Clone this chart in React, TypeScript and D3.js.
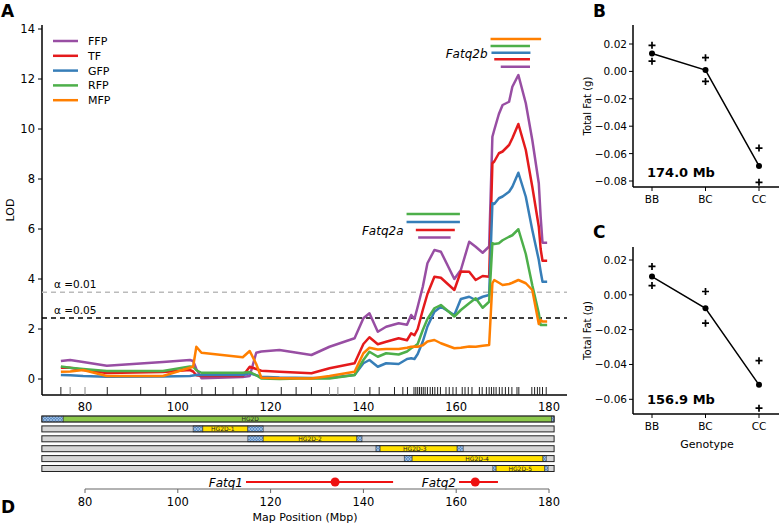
import React, { useEffect, useRef } from 'react';
import * as d3 from 'd3';

// map positions (Mb) where LOD was read
const positions = [74.8, 76.8, 79.6, 84.7, 96.8, 102.6, 103.3, 104.0, 105.1, 114.0, 115.5, 116.9, 118.0, 121.9, 128.8, 132.7, 138.1, 140.0, 141.3, 143.1, 144.9, 147.6, 149.4, 150.3, 151.0, 151.7, 152.8, 153.8, 155.3, 156.7, 159.6, 161.0, 162.8, 164.2, 165.7, 167.1, 167.8, 168.2, 169.2, 170.0, 171.4, 172.1, 173.4, 175.0, 176.4, 177.8, 178.2, 178.6, 179.6];

const lodFFP = [0.72, 0.76, 0.68, 0.53, 0.68, 0.76, 0.72, 0.4, 0.03, 0.08, 0.12, 1.05, 1.1, 1.16, 0.96, 1.29, 1.63, 2.43, 2.63, 1.89, 2.09, 2.23, 2.17, 2.56, 2.4, 2.89, 3.69, 4.63, 5.16, 5.09, 4.0, 4.36, 5.49, 5.29, 5.05, 5.3, 9.69, 9.96, 10.6, 10.96, 11.09, 11.69, 12.16, 11.03, 9.56, 7.83, 6.49, 5.45, 5.45];
const lodTF = [0.45, 0.45, 0.36, 0.24, 0.28, 0.36, 0.3, 0.15, 0.12, 0.12, 0.49, 0.4, 0.33, 0.29, 0.23, 0.43, 0.63, 1.4, 1.67, 1.39, 1.49, 1.63, 1.55, 1.83, 1.75, 2.0, 2.76, 3.4, 4.09, 4.05, 3.56, 4.3, 4.29, 3.96, 4.12, 4.09, 8.63, 8.7, 9.03, 9.1, 9.36, 9.63, 10.2, 9.16, 7.69, 6.09, 5.2, 4.73, 4.73];
const lodGFP = [0.16, 0.15, 0.12, 0.09, 0.1, 0.12, 0.14, 0.16, 0.16, 0.16, 0.23, 0.15, 0.09, 0.06, 0.04, 0.05, 0.16, 0.63, 0.76, 0.49, 0.63, 0.6, 0.8, 0.83, 0.8, 1.0, 1.5, 2.1, 2.69, 2.89, 2.56, 3.2, 3.29, 3.16, 3.29, 3.36, 7.03, 7.0, 7.23, 7.3, 7.49, 7.69, 8.25, 7.29, 5.96, 4.76, 4.3, 3.89, 3.89];
const lodRFP = [0.5, 0.45, 0.4, 0.32, 0.32, 0.5, 0.49, 0.35, 0.25, 0.25, 0.28, 0.15, 0.02, 0.0, 0.03, 0.02, 0.16, 0.76, 1.09, 0.89, 1.03, 0.98, 1.1, 1.23, 1.3, 1.4, 1.96, 2.4, 2.83, 2.96, 2.5, 2.76, 3.03, 3.23, 2.85, 3.09, 5.43, 5.4, 5.43, 5.55, 5.69, 5.75, 5.99, 5.0, 3.75, 2.63, 2.16, 2.16, 2.16];
const lodMFP = [0.29, 0.3, 0.36, 0.12, 0.12, 0.45, 0.49, 1.29, 1.05, 0.87, 1.12, 0.6, 0.05, 0.03, 0.02, 0.12, 0.29, 1.03, 1.25, 1.18, 1.2, 1.2, 1.25, 1.29, 1.3, 1.29, 1.35, 1.5, 1.56, 1.43, 1.23, 1.25, 1.3, 1.29, 1.33, 1.36, 3.83, 3.96, 3.85, 3.76, 3.8, 3.85, 3.96, 3.83, 3.56, 2.2, 2.36, 2.3, 2.3];

const seriesNames = ['FFP', 'TF', 'GFP', 'RFP', 'MFP'];
const seriesLods = [lodFFP, lodTF, lodGFP, lodRFP, lodMFP];
const seriesColors = ['#984ea3', '#e41a1c', '#377eb8', '#4daf4a', '#ff7f00'];

// genotyped markers (rug)
const markers = [74.8, 76.8, 80.0, 84.8, 92.0, 97.4, 102.9, 105.2, 108.1, 111.9, 114.8, 117.3, 122.3, 125.5, 128.8, 132.7, 134.5, 138.1, 141.4, 143.4, 146.7, 148.5, 149.5, 150.9, 151.3, 151.7, 152.1, 152.5, 152.9, 153.3, 153.8, 154.4, 154.9, 155.4, 156.0, 156.6, 157.8, 158.5, 159.3, 160.0, 161.3, 161.9, 162.6, 163.4, 165.0, 165.6, 166.5, 167.1, 167.6, 168.1, 168.6, 169.3, 169.9, 170.6, 171.3, 172.0, 173.1, 173.5, 176.3, 176.9, 177.5, 178.0, 178.6, 179.4];
const greyMarkers = [76.8, 80.0, 102.9, 132.7, 134.5, 138.1];

const thresholds = [
  { label: 'α =0.01', lod: 3.47, color: '#bbbbbb' },
  { label: 'α =0.05', lod: 2.44, color: '#000000' },
];

// support intervals per trait: [trait, start, end, lod height]
const fatq2aIntervals = [
  ['RFP', 149.3, 160.8, 6.6],
  ['GFP', 149.3, 160.8, 6.28],
  ['TF', 151.3, 159.7, 5.96],
  ['FFP', 151.8, 158.8, 5.66],
];
const fatq2bIntervals = [
  ['MFP', 167.4, 178.3, 13.6],
  ['RFP', 167.4, 175.9, 13.32],
  ['GFP', 167.6, 176.0, 13.05],
  ['TF', 168.2, 175.9, 12.79],
  ['FFP', 169.6, 175.9, 12.49],
];

// congenic strains: segments [start, end, kind]
const regionStart = 70.7;
const regionEnd = 181.1;
const strainNames = ['HG2D', 'HG2D-1', 'HG2D-2', 'HG2D-3', 'HG2D-4', 'HG2D-5'];
const strainLabelPos = [115.6, 109.7, 128.5, 151.1, 164.5, 173.8];
const strainSegments = [
  [[70.7, 75.3, 'u'], [75.3, 180.6, 'g'], [180.6, 181.1, 'u']],
  [[103.3, 105.4, 'u'], [105.4, 115.1, 'y'], [115.1, 118.4, 'u']],
  [[115.1, 118.4, 'u'], [118.4, 138.6, 'y'], [138.6, 139.7, 'u']],
  [[142.7, 143.6, 'u'], [143.6, 160.2, 'y'], [160.2, 161.5, 'u']],
  [[148.8, 150.5, 'u'], [150.5, 178.7, 'y'], [178.7, 179.4, 'u']],
  [[167.9, 168.6, 'u'], [168.6, 179.1, 'y'], [179.1, 179.8, 'u']],
];

const qtlNames = ['Fatq1', 'Fatq2'];
const qtlRanges = [[114.7, 146.4], [160.6, 169.0]];
const qtlPeaks = [133.9, 164.1];

const xTicks = [80, 100, 120, 140, 160, 180];
const lodTicks = [0, 2, 4, 6, 8, 10, 12, 14];

// effect plots
const genotypes = ['BB', 'BC', 'CC'];
const effB = { label: '174.0 Mb', mean: [0.013, 0.001, -0.069], hi: [0.019, 0.010, -0.056], lo: [0.0075, -0.0073, -0.081] };
const effC = { label: '156.9 Mb', mean: [0.0105, -0.0077, -0.0517], hi: [0.0163, 0.0019, -0.0378], lo: [0.0053, -0.0163, -0.0651] };
const ticksB = [0.02, 0, -0.02, -0.04, -0.06, -0.08];
const ticksC = [0.02, 0, -0.02, -0.04, -0.06];

const FONT = 'DejaVu Sans';

const fmt = (v) => (v < 0 ? '\u2212' : '') + Math.abs(v).toFixed(2);

const App = () => {
  const ref = useRef(null);

  useEffect(() => {
    const svg = d3.select(ref.current);
    svg.selectAll('*').remove();
    svg.attr('font-family', FONT);

    const x = d3.scaleLinear().domain([80, 180]).range([85, 549]);
    const y = d3.scaleLinear().domain([0, 14]).range([379, 29]);

    const defs = svg.append('defs');
    const pat = defs.append('pattern').attr('id', 'hatch').attr('patternUnits', 'userSpaceOnUse')
      .attr('width', 3).attr('height', 3);
    pat.append('rect').attr('width', 3).attr('height', 3).attr('fill', '#5d8fc8');
    pat.append('path').attr('d', 'M0,3 L3,0 M0,0 L3,3').attr('stroke', '#b9cfe8').attr('stroke-width', 0.6);

    // panel letters
    const letters = [['A', 1, 17], ['B', 593, 17], ['C', 593, 238], ['D', 1, 513]];
    letters.forEach(([t, lx, ly]) => {
      svg.append('text').attr('x', lx).attr('y', ly).attr('font-size', 17).attr('font-weight', 'bold').text(t);
    });

    // ---- panel A ----
    const g = svg.append('g');
    g.append('line').attr('x1', 42).attr('x2', 42).attr('y1', 25).attr('y2', 395).attr('stroke', '#000').attr('stroke-width', 1.5);
    g.append('line').attr('x1', 42).attr('x2', 567).attr('y1', 395).attr('y2', 395).attr('stroke', '#000').attr('stroke-width', 1.5);

    lodTicks.forEach((t) => {
      g.append('line').attr('x1', 38).attr('x2', 42).attr('y1', y(t)).attr('y2', y(t)).attr('stroke', '#000');
      g.append('text').attr('x', 35).attr('y', y(t) + 4).attr('text-anchor', 'end').attr('font-size', 11.5).text(t);
    });
    g.append('text').attr('transform', 'translate(14,210) rotate(-90)').attr('text-anchor', 'middle')
      .attr('font-size', 11).text('LOD');

    xTicks.forEach((t) => {
      g.append('text').attr('x', x(t)).attr('y', 411).attr('text-anchor', 'middle').attr('font-size', 11.5).text(t);
    });

    g.selectAll('.rug').data(markers).enter().append('line')
      .attr('x1', (d) => x(d)).attr('x2', (d) => x(d)).attr('y1', 387).attr('y2', 395)
      .attr('stroke', (d) => (greyMarkers.includes(d) ? '#888' : '#222')).attr('stroke-width', 1);

    thresholds.forEach((th) => {
      g.append('line').attr('x1', 42).attr('x2', 567).attr('y1', y(th.lod)).attr('y2', y(th.lod))
        .attr('stroke', th.color).attr('stroke-width', 1.5).attr('stroke-dasharray', '5,4');
      g.append('text').attr('x', 54).attr('y', y(th.lod) - 4).attr('font-size', 10.5).text(th.label);
    });

    const line = d3.line().x((d) => x(d[0])).y((d) => y(d[1]));
    seriesLods.forEach((lods, i) => {
      g.append('path').datum(positions.map((p, j) => [p, lods[j]]))
        .attr('d', line).attr('fill', 'none').attr('stroke', seriesColors[i])
        .attr('stroke-width', 2.5).attr('stroke-linejoin', 'round');
    });

    // legend
    seriesNames.forEach((n, i) => {
      const ly = 41 + i * 14.8;
      g.append('line').attr('x1', 53).attr('x2', 78).attr('y1', ly).attr('y2', ly)
        .attr('stroke', seriesColors[i]).attr('stroke-width', 2.5);
      g.append('text').attr('x', 88).attr('y', ly + 4).attr('font-size', 11).text(n);
    });

    const colorOf = (n) => seriesColors[seriesNames.indexOf(n)];
    const drawIntervals = (list, label) => {
      list.forEach(([n, a, b, h]) => {
        g.append('line').attr('x1', x(a)).attr('x2', x(b)).attr('y1', y(h)).attr('y2', y(h))
          .attr('stroke', colorOf(n)).attr('stroke-width', 2.5);
      });
      const mid = list[Math.floor(list.length / 2)];
      g.append('text').attr('x', x(list[0][1]) - 3).attr('y', y(mid[3]) + 5).attr('text-anchor', 'end')
        .attr('font-size', 12).attr('font-style', 'italic').text(label);
    };
    drawIntervals(fatq2aIntervals, 'Fatq2a');
    drawIntervals(fatq2bIntervals, 'Fatq2b');

    // ---- congenic bars ----
    const fills = { u: 'url(#hatch)', g: '#8cc84b', y: '#ffe000' };
    strainNames.forEach((n, i) => {
      const top = 416 + i * 9.9;
      const row = g.append('g');
      row.append('rect').attr('x', x(regionStart)).attr('y', top).attr('width', x(regionEnd) - x(regionStart))
        .attr('height', 6).attr('fill', '#d6d6d6');
      strainSegments[i].forEach(([a, b, k]) => {
        row.append('rect').attr('x', x(a)).attr('y', top).attr('width', x(b) - x(a)).attr('height', 6)
          .attr('fill', fills[k]).attr('stroke', '#333').attr('stroke-width', 0.6);
      });
      row.append('rect').attr('x', x(regionStart)).attr('y', top).attr('width', x(regionEnd) - x(regionStart))
        .attr('height', 6).attr('fill', 'none').attr('stroke', '#222').attr('stroke-width', 1);
      row.append('text').attr('x', x(strainLabelPos[i])).attr('y', top + 5).attr('text-anchor', 'middle')
        .attr('font-size', 6).attr('fill', '#222').text(n);
    });

    // ---- QTL positions ----
    qtlNames.forEach((n, i) => {
      const [a, b] = qtlRanges[i];
      g.append('line').attr('x1', x(a)).attr('x2', x(b)).attr('y1', 482).attr('y2', 482)
        .attr('stroke', '#ee1111').attr('stroke-width', 2.2);
      g.append('circle').attr('cx', x(qtlPeaks[i])).attr('cy', 482).attr('r', 4.5).attr('fill', '#ee1111');
      g.append('text').attr('x', x(a) - 3).attr('y', 486.5).attr('text-anchor', 'end')
        .attr('font-size', 12).attr('font-style', 'italic').text(n);
    });

    g.append('line').attr('x1', x(80)).attr('x2', x(180)).attr('y1', 489).attr('y2', 489).attr('stroke', '#666').attr('stroke-width', 1.2);
    xTicks.forEach((t) => {
      g.append('line').attr('x1', x(t)).attr('x2', x(t)).attr('y1', 489).attr('y2', 493).attr('stroke', '#666');
      g.append('text').attr('x', x(t)).attr('y', 506).attr('text-anchor', 'middle').attr('font-size', 11.5).text(t);
    });
    g.append('text').attr('x', 305).attr('y', 521).attr('text-anchor', 'middle').attr('font-size', 11).text('Map Position (Mbp)');

    // ---- effect plots ----
    const gx = d3.scalePoint().domain(genotypes).range([652, 759]);
    const effect = (eff, ticks, yScale, top, bottom, xlab) => {
      const p = svg.append('g');
      p.append('line').attr('x1', 633).attr('x2', 633).attr('y1', top).attr('y2', bottom).attr('stroke', '#000').attr('stroke-width', 1.5);
      p.append('line').attr('x1', 633).attr('x2', 779).attr('y1', bottom).attr('y2', bottom).attr('stroke', '#000').attr('stroke-width', 1.5);
      ticks.forEach((t) => {
        p.append('line').attr('x1', 629).attr('x2', 633).attr('y1', yScale(t)).attr('y2', yScale(t)).attr('stroke', '#000');
        p.append('text').attr('x', 627).attr('y', yScale(t) + 4).attr('text-anchor', 'end').attr('font-size', 10.5).text(fmt(t));
      });
      genotypes.forEach((gt) => {
        p.append('line').attr('x1', gx(gt)).attr('x2', gx(gt)).attr('y1', bottom).attr('y2', bottom + 4).attr('stroke', '#000');
        p.append('text').attr('x', gx(gt)).attr('y', bottom + 16).attr('text-anchor', 'middle').attr('font-size', 10.5).text(gt);
      });
      p.append('text').attr('transform', `translate(${591},${(top + bottom) / 2}) rotate(-90)`).attr('text-anchor', 'middle')
        .attr('font-size', 10).text('Total Fat (g)');
      p.append('path').datum(eff.mean.map((m, i) => [gx(genotypes[i]), yScale(m)]))
        .attr('d', d3.line()).attr('fill', 'none').attr('stroke', '#000').attr('stroke-width', 1.5);
      eff.mean.forEach((m, i) => {
        p.append('circle').attr('cx', gx(genotypes[i])).attr('cy', yScale(m)).attr('r', 3).attr('fill', '#000');
      });
      [...eff.hi, ...eff.lo].forEach((v, k) => {
        const cx = gx(genotypes[k % 3]);
        const cy = yScale(v);
        p.append('path').attr('d', `M${cx - 3.5},${cy}H${cx + 3.5}M${cx},${cy - 3.5}V${cy + 3.5}`)
          .attr('stroke', '#000').attr('stroke-width', 1.7);
      });
      p.append('text').attr('x', 647).attr('y', bottom - 10).attr('font-size', 13).attr('font-weight', 'bold').text(eff.label);
      if (xlab) {
        p.append('text').attr('x', 707).attr('y', bottom + 34).attr('text-anchor', 'middle').attr('font-size', 11).text(xlab);
      }
    };
    effect(effB, ticksB, d3.scaleLinear().domain([0.02, -0.08]).range([44, 181]), 25, 187, null);
    effect(effC, ticksC, d3.scaleLinear().domain([0.02, -0.06]).range([260, 399.3]), 247, 414, 'Genotype');
  }, []);

  return (
    <svg ref={ref} width={779} height={526}
      style={{ position: 'absolute', left: 0, top: 0, display: 'block', background: '#fff' }} />
  );
};

export default App;
